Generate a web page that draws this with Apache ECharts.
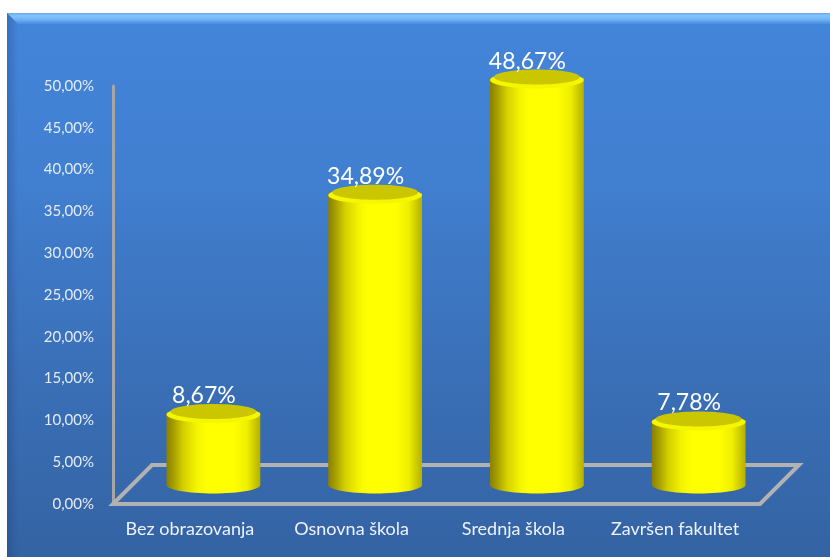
<!DOCTYPE html>
<html><head><meta charset="utf-8">
<style>html,body{margin:0;padding:0;background:#fff}#c{width:830px;height:557px}</style>
<script src="https://cdn.jsdelivr.net/npm/echarts@6/dist/echarts.min.js"></script>
</head><body><div id="c"></div>
<script>
const categories = ['Bez obrazovanja', 'Osnovna škola', 'Srednja škola', 'Završen fakultet'];
const values = [8.67, 34.89, 48.67, 7.78];
const axisMin = 0, axisMax = 50, axisStep = 5;

const FONT = 'Lato, "Open Sans", sans-serif';
const DEPTH = 39;           // floor depth in pixels (both directions)
const side = () => ({type:'linear',x:0,y:0,x2:1,y2:0,colorStops:[
  {offset:0,color:'#8a7f00'},{offset:.08,color:'#a8a000'},{offset:.18,color:'#d4d000'},
  {offset:.32,color:'#f4f400'},{offset:.42,color:'#ffff00'},{offset:.72,color:'#ffff00'},
  {offset:.86,color:'#eeee00'},{offset:1,color:'#b4b000'}]});
const fmt = v => v.toFixed(2).replace('.', ',') + '%';

const chart = echarts.init(document.getElementById('c'), null, {renderer:'canvas'});
chart.setOption({
  animation:false,
  backgroundColor:'#ffffff',
  graphic:{elements:[
    {type:'rect',z:-30,silent:true,shape:{x:7,y:13,width:823,height:544},
     style:{fill:{type:'linear',x:0,y:0,x2:0,y2:1,colorStops:[
       {offset:0,color:'#4385da'},{offset:.3,color:'#417fd0'},{offset:.65,color:'#3a70b8'},{offset:1,color:'#3463a3'}]}}},
    {type:'polygon',z:-29,silent:true,shape:{points:[[7,13],[830,13],[830,24],[18,24]]},
     style:{fill:{type:'linear',x:0,y:0,x2:0,y2:1,colorStops:[
       {offset:0,color:'#6ca6e8'},{offset:.25,color:'#80c4ff'},{offset:.55,color:'#74b6f6'},{offset:1,color:'#4a8ce0'}]}}},
    {type:'polygon',z:-29,silent:true,shape:{points:[[7,13],[18,24],[18,557],[7,557]]},
     style:{fill:{type:'linear',x:0,y:0,x2:1,y2:0,colorStops:[
       {offset:0,color:'rgba(20,50,100,0.25)'},{offset:1,color:'rgba(20,50,100,0)'}]}}}
  ]},
  grid:{left:113,right:70,top:86,bottom:53},
  xAxis:{type:'category',data:categories,
    axisLine:{show:false},axisTick:{show:false},
    axisLabel:{color:'#eef2fa',fontFamily:FONT,fontSize:18,margin:16,interval:0,hideOverlap:false,padding:[0,8,0,0]}},
  yAxis:{type:'value',min:axisMin,max:axisMax,interval:axisStep,
    axisLine:{show:true,lineStyle:{color:'#a6a6a6',width:3}},
    axisTick:{show:false},splitLine:{show:false},
    axisLabel:{color:'#e4ebf7',fontFamily:FONT,fontSize:15,margin:19,padding:[4,0,0,0],
      formatter:v=>fmt(v)}},
  series:[
    {type:'custom',z:1,silent:true,clip:false,data:[0],
     renderItem(params,api){
       const cs=params.coordSys, x0=cs.x, x1=cs.x+cs.width, y=cs.y+cs.height;
       return {type:'polygon',shape:{points:[[x0,y],[x1,y],[x1+DEPTH,y-DEPTH],[x0+DEPTH,y-DEPTH]]},
         style:{fill:'none',stroke:'#b2b2b2',lineWidth:4,lineJoin:'miter'}};
     }},
    {type:'custom',z:2,silent:true,clip:false,
     data:values.map((v,i)=>[i,v]),
     encode:{x:0,y:1},
     renderItem(params,api){
       const v=api.value(1), band=api.size([1,0])[0];
       const w=band*0.58, rx=w/2, ry=8.5;
       const top=api.coord([api.value(0),v]), base=api.coord([api.value(0),0]);
       const cx=base[0]+19.5, yB=base[1]-19, yT=top[1]-19;
       return {type:'group',children:[
         {type:'ellipse',shape:{cx,cy:yB,rx,ry},style:{fill:side()}},
         {type:'rect',shape:{x:cx-rx,y:yT,width:w,height:yB-yT},style:{fill:side()}},
         {type:'ellipse',shape:{cx,cy:yT+2,rx,ry},style:{fill:'#f6f600'}},
         {type:'ellipse',shape:{cx,cy:yT-1,rx:rx-4,ry:ry-1},style:{fill:'#cac600'}},
         {type:'text',style:{text:fmt(v),x:cx-9.5,y:yT-17,align:'center',verticalAlign:'middle',
           fill:'#ffffff',font:'23px '+FONT}}
       ]};
     }}
  ]
});
</script></body></html>
